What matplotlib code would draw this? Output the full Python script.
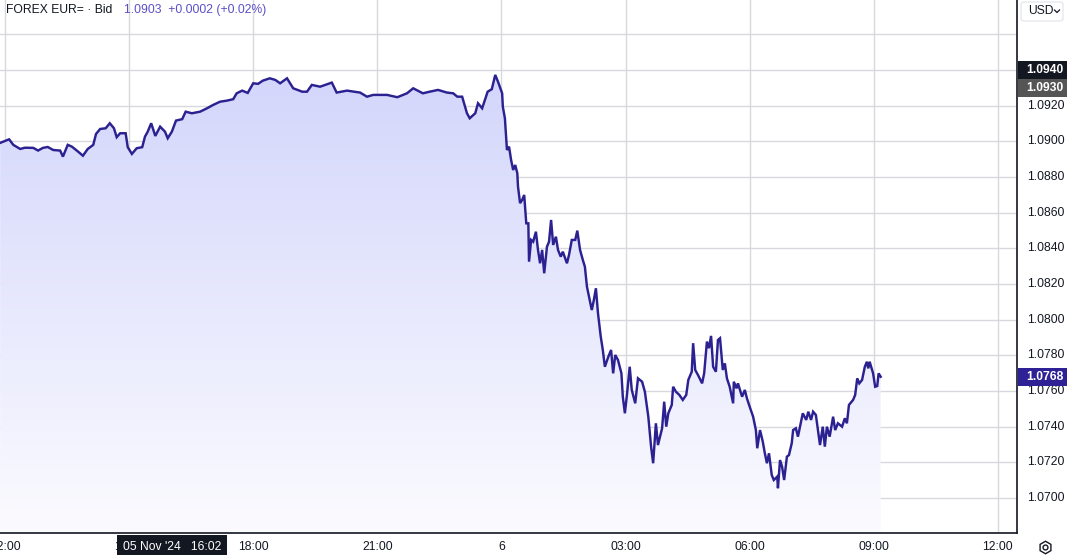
import numpy as np
import matplotlib.pyplot as plt
from matplotlib.path import Path
from matplotlib.patches import PathPatch, FancyBboxPatch

plt.rcParams['font.family'] = ['Liberation Sans', 'DejaVu Sans']

# minutes after 05 Nov 2024 12:00, EUR= bid
minutes = [-7, 6, 12, 22, 29, 41, 48, 55, 62, 70, 80, 84, 91, 97, 106, 113, 120, 128, 132, 138,
           146, 152, 158, 162, 167, 175, 178, 184, 191, 199, 203, 207, 212, 218, 225, 232, 236, 242, 248, 257,
           262, 271, 283, 293, 302, 312, 322, 331, 336, 344, 352, 360, 367, 374, 384, 392, 399, 409, 418, 431,
           438, 445, 457, 474, 481, 496, 515, 525, 534, 554, 569, 583, 592, 606, 616, 628, 641, 650, 656, 663,
           670, 674, 682, 686, 692, 700, 706, 711, 715, 721, 722, 725, 728, 731, 734, 737, 740, 743, 744, 747,
           750, 753, 756, 759, 760, 763, 766, 770, 773, 776, 779, 782, 786, 789, 792, 795, 799, 802, 806, 809,
           815, 818, 822, 827, 830, 834, 838, 841, 844, 848, 851, 854, 857, 860, 864, 867, 870, 875, 879, 882,
           885, 889, 894, 896, 899, 902, 906, 909, 914, 918, 924, 928, 933, 937, 940, 944, 947, 953, 956, 959,
           962, 967, 969, 973, 978, 983, 988, 991, 996, 998, 1001, 1005, 1011, 1014, 1018, 1021, 1024, 1027, 1031, 1034,
           1037, 1041, 1044, 1047, 1051, 1056, 1057, 1061, 1063, 1069, 1073, 1076, 1080, 1085, 1089, 1091, 1095, 1099, 1102, 1105,
           1108, 1112, 1115, 1120, 1121, 1124, 1127, 1130, 1134, 1137, 1141, 1143, 1147, 1150, 1154, 1157, 1162, 1165, 1169, 1172,
           1176, 1179, 1182, 1186, 1189, 1192, 1196, 1201, 1204, 1208, 1214, 1218, 1221, 1224, 1230, 1233, 1236, 1239, 1243, 1247,
           1250, 1252, 1254, 1259, 1262, 1265, 1267, 1270]
price = [1.08991, 1.09011, 1.08980, 1.08957, 1.08964, 1.08963, 1.08948, 1.08963, 1.08968, 1.08951,
         1.08948, 1.08914, 1.08980, 1.08970, 1.08942, 1.08919, 1.08957, 1.08980, 1.09041, 1.09069,
         1.09073, 1.09101, 1.09073, 1.09023, 1.09045, 1.09045, 1.08967, 1.08929, 1.08961, 1.08967,
         1.09026, 1.09054, 1.09101, 1.09030, 1.09082, 1.09054, 1.09017, 1.09054, 1.09116, 1.09124,
         1.09166, 1.09157, 1.09166, 1.09185, 1.09204, 1.09222, 1.09228, 1.09236, 1.09269, 1.09284,
         1.09271, 1.09325, 1.09322, 1.09340, 1.09353, 1.09344, 1.09325, 1.09353, 1.09297, 1.09278,
         1.09278, 1.09316, 1.09306, 1.09329, 1.09273, 1.09284, 1.09273, 1.09250, 1.09260, 1.09260,
         1.09247, 1.09269, 1.09297, 1.09269, 1.09278, 1.09288, 1.09273, 1.09269, 1.09250, 1.09250,
         1.09157, 1.09129, 1.09157, 1.09213, 1.09185, 1.09278, 1.09292, 1.09372, 1.09334, 1.09269,
         1.09194, 1.09129, 1.08951, 1.08970, 1.08895, 1.08839, 1.08867, 1.08821, 1.08746, 1.08653,
         1.08671, 1.08699, 1.08540, 1.08540, 1.08325, 1.08447, 1.08437, 1.08493, 1.08391, 1.08316,
         1.08391, 1.08260, 1.08409, 1.08437, 1.08559, 1.08419, 1.08465, 1.08391, 1.08353, 1.08381,
         1.08316, 1.08363, 1.08447, 1.08447, 1.08499, 1.08391, 1.08335, 1.08297, 1.08185, 1.08110,
         1.08054, 1.08110, 1.08176, 1.08036, 1.07905, 1.07830, 1.07736, 1.07792, 1.07830, 1.07699,
         1.07802, 1.07774, 1.07699, 1.07568, 1.07475, 1.07578, 1.07736, 1.07606, 1.07531, 1.07671,
         1.07652, 1.07596, 1.07456, 1.07288, 1.07195, 1.07419, 1.07297, 1.07391, 1.07540, 1.07400,
         1.07475, 1.07522, 1.07624, 1.07596, 1.07578, 1.07550, 1.07578, 1.07662, 1.07708, 1.07868,
         1.07718, 1.07690, 1.07643, 1.07699, 1.07877, 1.07840, 1.07909, 1.07736, 1.07708, 1.07886,
         1.07896, 1.07718, 1.07755, 1.07671, 1.07624, 1.07531, 1.07652, 1.07615, 1.07643, 1.07568,
         1.07606, 1.07559, 1.07512, 1.07456, 1.07381, 1.07279, 1.07381, 1.07316, 1.07251, 1.07195,
         1.07251, 1.07129, 1.07101, 1.07120, 1.07055, 1.07213, 1.07176, 1.07101, 1.07232, 1.07241,
         1.07307, 1.07381, 1.07391, 1.07344, 1.07419, 1.07475, 1.07438, 1.07484, 1.07438, 1.07484,
         1.07466, 1.07381, 1.07297, 1.07400, 1.07288, 1.07400, 1.07344, 1.07456, 1.07381, 1.07419,
         1.07400, 1.07447, 1.07419, 1.07522, 1.07550, 1.07578, 1.07671, 1.07643, 1.07662, 1.07736,
         1.07764, 1.07727, 1.07764, 1.07699, 1.07624, 1.07628, 1.07699, 1.07680]

tick_minutes = [0, 180, 360, 540, 720, 900, 1080, 1260, 1440]
tick_labels = ['12:00', '15:00', '18:00', '21:00', '6', '03:00', '06:00', '09:00', '12:00']
price_ticks = [1.0700, 1.0720, 1.0740, 1.0760, 1.0780, 1.0800, 1.0820, 1.0840,
               1.0860, 1.0880, 1.0900, 1.0920, 1.0940, 1.0960]

last_price = 1.0768
cursor_price = 1.0940
marker_price = 1.0930
cursor_label = "05 Nov '24   16:02"

W, H = 1067, 555
line_col = '#2c2191'
grid_col = '#d8d8df'
text_col = '#131722'
fs = 8.7

fig = plt.figure(figsize=(W / 100, H / 100), dpi=100)
fig.patch.set_facecolor('white')
ax = fig.add_axes([0, 22 / H, 1017 / W, 533 / H])

x0, x1 = -7.25, 1467.7
y0, y1 = 1.06804, 1.09792
ax.set_xlim(x0, x1)
ax.set_ylim(y0, y1)

# gradient fill under the line
grad = np.linspace(0, 1, 256).reshape(-1, 1)
top = np.array([210, 213, 251]) / 255
bot = np.array([251, 251, 255]) / 255
img = top + (bot - top) * grad[:, :, None] * np.ones((1, 1, 3))
im = ax.imshow(img, extent=[x0, x1, y0, 1.0945], aspect='auto', zorder=1,
               interpolation='bicubic', origin='upper')
verts = [(minutes[0], y0)] + list(zip(minutes, price)) + [(minutes[-1], y0)]
clip = PathPatch(Path(verts), transform=ax.transData, facecolor='none', edgecolor='none')
ax.add_patch(clip)
im.set_clip_path(clip)

ax.plot(minutes, price, color=line_col, lw=1.75, zorder=3, solid_joinstyle='miter')

for t in tick_minutes:
    ax.axvline(t, color=grid_col, lw=1, zorder=0)
for p in price_ticks:
    ax.axhline(p, color=grid_col, lw=1, zorder=0)

ax.set_xticks([])
ax.set_yticks([])
for s in ['top', 'left']:
    ax.spines[s].set_visible(False)
for s in ['right', 'bottom']:
    ax.spines[s].set_color(text_col)
    ax.spines[s].set_linewidth(1.2)

# axis labels
for t, lab in zip(tick_minutes, tick_labels):
    ax.text(t, -0.015, lab, transform=ax.get_xaxis_transform(), ha='center', va='top',
            fontsize=fs, color=text_col, clip_on=False)
for p in price_ticks[:-2]:
    ax.text(1.0095, p, '%.4f' % p, transform=ax.get_yaxis_transform(), ha='left', va='center',
            fontsize=fs, color=text_col, clip_on=False)

def price_box(p, face):
    yf = (22 + 533 * (p - y0) / (y1 - y0)) / H
    fig.patches.append(FancyBboxPatch((1018 / W, yf - 9 / H), 49 / W, 18 / H,
                                      boxstyle='square,pad=0', transform=fig.transFigure,
                                      facecolor=face, edgecolor='none'))
    fig.text(1026 / W, yf, '%.4f' % p, ha='left', va='center', fontsize=fs,
             color='white', weight='bold')

price_box(marker_price, '#555555')
price_box(cursor_price, text_col)
price_box(last_price, '#2e2196')

# crosshair time label
fig.patches.append(FancyBboxPatch((117 / W, 0), 110 / W, 20 / H, boxstyle='square,pad=0',
                                  transform=fig.transFigure, facecolor=text_col, edgecolor='none'))
fig.text(172 / W, 8 / H, cursor_label, ha='center', va='center', fontsize=fs, color='white')

# header
fig.text(6 / W, 1 - 10 / H, 'FOREX EUR= \u00b7 Bid', ha='left', va='center', fontsize=8.7, color=text_col)
fig.text(124 / W, 1 - 10 / H, '1.0903  +0.0002 (+0.02%)', ha='left', va='center',
         fontsize=8.7, color='#5b4fc8')

# currency selector
fig.patches.append(FancyBboxPatch((1021 / W, 1 - 21 / H), 42 / W, 19 / H,
                                  boxstyle='round,pad=0,rounding_size=0.004',
                                  transform=fig.transFigure, facecolor='white',
                                  edgecolor='#e0e3eb', lw=0.8))
fig.text(1028 / W, 1 - 11 / H, 'USD', ha='left', va='center', fontsize=fs, color=text_col)
fig.lines.append(plt.Line2D([1054.5 / W, 1057 / W, 1059.5 / W], [1 - 10 / H, 1 - 12.5 / H, 1 - 10 / H],
                            color=text_col, lw=0.9, transform=fig.transFigure))

# settings icon
fig.lines.append(plt.Line2D([1045 / W], [8 / H], marker='h', ms=9, mfc='none', mec=text_col,
                            mew=1, transform=fig.transFigure))
fig.lines.append(plt.Line2D([1045 / W], [8 / H], marker='o', ms=3.5, mfc='none', mec=text_col,
                            mew=1, transform=fig.transFigure))

fig.savefig('out.png', dpi=100)
